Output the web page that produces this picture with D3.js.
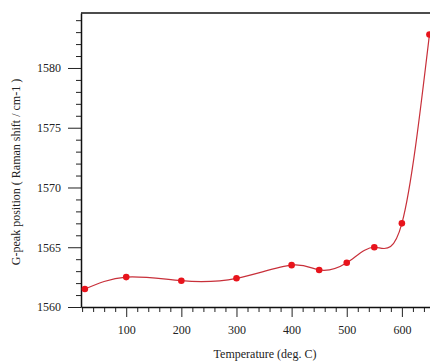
<!DOCTYPE html>
<html>
<head>
<meta charset="utf-8">
<script src="https://cdn.jsdelivr.net/npm/d3@7"></script>
<style>
  body { margin: 0; background: #fff; }
  svg text { font-family: "Liberation Serif", "Times New Roman", serif; fill: #222; }
</style>
</head>
<body>
<div id="chart"></div>
<script>
// temperature (deg C) and G-peak position (cm-1)
const temps = [25, 100, 200, 300, 400, 450, 500, 550, 600, 650];
const gPeak = [1561.5, 1562.5, 1562.2, 1562.4, 1563.5, 1563.1, 1563.7, 1565.0, 1567.0, 1582.8];
const xTicks = [100, 200, 300, 400, 500, 600];
const yTicks = [1560, 1565, 1570, 1575, 1580];

const W = 430, H = 362;
const mLeft = 81, mTop = 13, mBottom = 307, mRight = 430;
const serif = "Liberation Serif, Times New Roman, serif";

const svg = d3.select("#chart").append("svg")
  .attr("width", W).attr("height", H);

const x = d3.scaleLinear().domain([18, 651]).range([mLeft, mRight]);
const y = d3.scaleLinear().domain([1560, 1584.6]).range([mBottom, mTop]);

// minor ticks
const xMinor = d3.range(20, 651, 20).filter(v => !xTicks.includes(v));
const yMinor = d3.range(1561, 1585, 1).filter(v => !yTicks.includes(v));

svg.append("g")
  .attr("transform", "translate(0," + mBottom + ")")
  .call(d3.axisBottom(x).tickValues(xMinor).tickSize(5).tickFormat(""))
  .call(g => g.select(".domain").remove());

svg.append("g")
  .attr("transform", "translate(" + mLeft + ",0)")
  .call(d3.axisLeft(y).tickValues(yMinor).tickSize(5).tickFormat(""))
  .call(g => g.select(".domain").remove());

// major axes
const xAxis = svg.append("g")
  .attr("transform", "translate(0," + mBottom + ")")
  .call(d3.axisBottom(x).tickValues(xTicks).tickFormat(d3.format("d"))
    .tickSize(10).tickPadding(8).tickSizeOuter(0));
xAxis.attr("font-family", serif).attr("font-size", 12);

const yAxis = svg.append("g")
  .attr("transform", "translate(" + mLeft + ",0)")
  .call(d3.axisLeft(y).tickValues(yTicks).tickFormat(d3.format("d"))
    .tickSize(13).tickPadding(7).tickSizeOuter(0));
yAxis.attr("font-family", serif).attr("font-size", 12);

svg.selectAll(".domain").attr("stroke", "#111").attr("stroke-width", 1.5);
svg.selectAll(".tick line").attr("stroke", "#222");

// top frame line
svg.append("line")
  .attr("x1", mLeft).attr("x2", W)
  .attr("y1", mTop).attr("y2", mTop)
  .attr("stroke", "#111").attr("stroke-width", 1.5);

// data
const pts = temps.map((t, i) => [t, gPeak[i]]);

svg.append("path")
  .datum(pts)
  .attr("fill", "none")
  .attr("stroke", "#c8303a")
  .attr("stroke-width", 1.2)
  .attr("d", d3.line().x(d => x(d[0])).y(d => y(d[1])).curve(d3.curveNatural));

svg.selectAll(".pt")
  .data(pts)
  .enter()
  .append("circle")
  .attr("cx", d => x(d[0]))
  .attr("cy", d => y(d[1]))
  .attr("r", 3.3)
  .attr("fill", "#e8141c");

// labels
svg.append("text")
  .attr("x", 265).attr("y", 358)
  .attr("text-anchor", "middle")
  .attr("font-family", serif)
  .style("font-size", "12px")
  .text("Temperature (deg. C)");

svg.append("text")
  .attr("transform", "translate(20,172) rotate(-90)")
  .attr("text-anchor", "middle")
  .attr("font-family", serif)
  .style("font-size", "12px")
  .text("G-peak position ( Raman shift / cm-1 )");
</script>
</body>
</html>
